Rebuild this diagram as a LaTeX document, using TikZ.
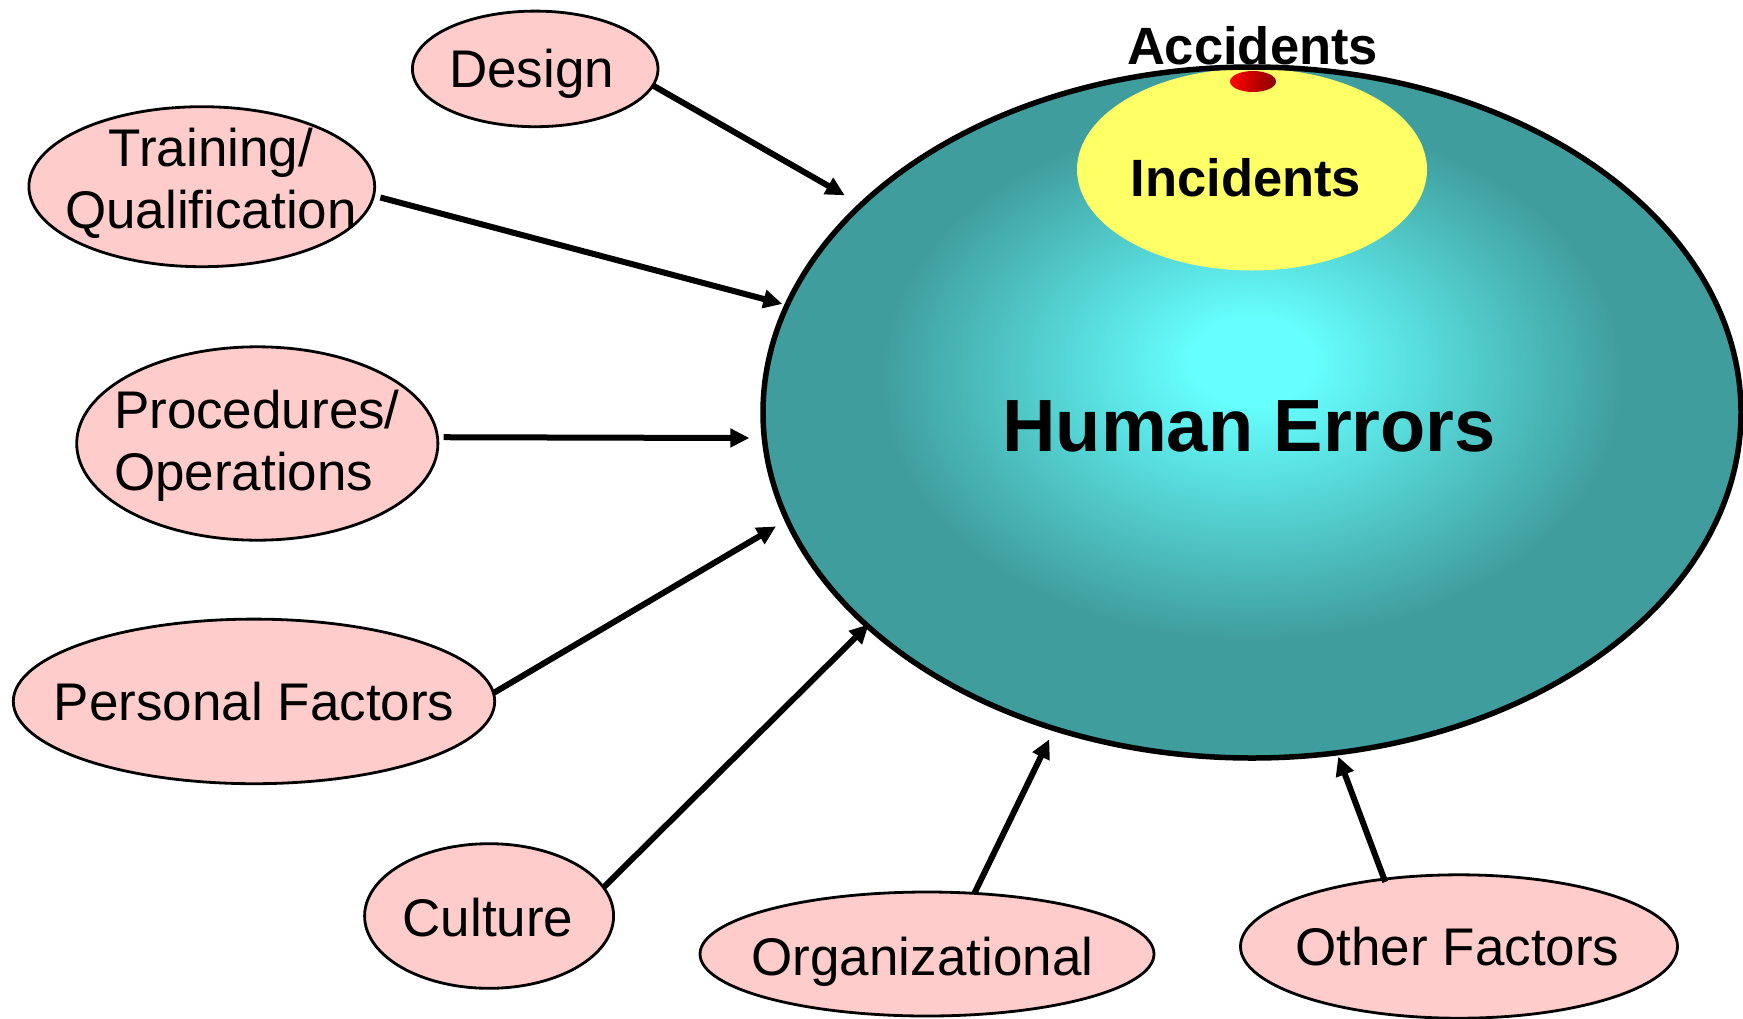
\documentclass[tikz,border=0pt]{standalone}
\usepackage{fontspec}
\setmainfont{Liberation Sans}
\usetikzlibrary{shapes.geometric,arrows.meta}

\definecolor{pinkfill}{RGB}{255,204,204}
\definecolor{incyellow}{RGB}{255,255,102}
\definecolor{hecore}{RGB}{102,255,255}
\definecolor{heedge}{RGB}{64,157,157}
\definecolor{dotlight}{RGB}{255,0,0}
\definecolor{dotdark}{RGB}{140,0,0}

% glow of the central ellipse: bright cyan core fading to teal
\pgfdeclareradialshading{errglow}{\pgfpoint{0bp}{4bp}}{%
  color(0bp)=(hecore); color(3bp)=(hecore); color(19bp)=(heedge);
  color(25bp)=(heedge); color(50bp)=(heedge)}

\begin{document}
\begin{tikzpicture}[x=1pt,y=-1pt,
  factor/.style={ellipse, draw, line width=2.8pt, fill=pinkfill,
                 inner sep=0pt, outer sep=0pt},
  lbl/.style={inner sep=0pt, outer sep=0pt,
              font=\fontsize{53}{61.6}\selectfont},
  boldlbl/.style={inner sep=0pt, outer sep=0pt,
                  font=\bfseries\fontsize{52.5}{62}\selectfont},
  arr/.style={line width=6pt, -{Triangle[length=19pt,width=18pt]}},
]
\useasboundingbox (0,0) rectangle (1743,1018);

% central ellipse with the incident and accident regions
\node[ellipse, inner sep=0pt, outer sep=0pt, minimum width=978pt,
      minimum height=691pt, shading=errglow] (he) at (1252,412.5) {};
\node[ellipse, inner sep=0pt, outer sep=0pt, minimum width=350pt,
      minimum height=202pt, fill=incyellow] (inc) at (1252,169.5) {};
\node[ellipse, inner sep=0pt, outer sep=0pt, minimum width=46pt,
      minimum height=21pt, left color=dotlight, right color=dotdark]
      (accdot) at (1253,81.5) {};
\draw[line width=5.5pt] (he.center) ellipse [x radius=489pt, y radius=345.5pt];

\node[boldlbl, anchor=base] (acctxt) at (1252.5,64) {Accidents};
\node[boldlbl, anchor=base] (inctxt) at (1245.8,196.7) {Incidents};
\node[inner sep=0pt, outer sep=0pt, anchor=base,
      font=\bfseries\fontsize{74}{80}\selectfont] (hetxt) at (1249.2,451.7) {Human Errors};

% contributing factors
\node[factor, minimum width=245.6pt, minimum height=115.6pt] (design) at (535.2,68.9) {};
\node[factor, minimum width=345.8pt, minimum height=160pt] (training) at (201.8,186.7) {};
\node[factor, minimum width=361.2pt, minimum height=193.4pt] (procedures) at (257.3,443.5) {};
\node[factor, minimum width=481.4pt, minimum height=164.6pt] (personal) at (254,701.4) {};
\node[factor, minimum width=249pt, minimum height=144.6pt] (culture) at (489.1,916) {};
\node[factor, minimum width=454pt, minimum height=124pt] (organizational) at (927,954) {};
\node[factor, minimum width=437pt, minimum height=143.4pt] (other) at (1459,946.5) {};

% multi-line labels are placed by the baseline of their last line
\node[lbl, anchor=base] (designtxt) at (531.7,87.7) {Design};
\node[lbl, anchor=base, align=center] (trainingtxt) at (211,228) {Training/\\Qualification};
\node[lbl, anchor=base west, align=left] (procedurestxt) at (114,490) {Procedures/\\Operations};
\node[lbl, anchor=base] (personaltxt) at (254.2,720) {Personal Factors};
\node[lbl, anchor=base] (culturetxt) at (488,936) {Culture};
\node[lbl, anchor=base] (organizationaltxt) at (922.5,975) {Organizational};
\node[lbl, anchor=base] (othertxt) at (1457.5,965) {Other Factors};

% influences on human error
\draw[arr, shorten >=19pt] (design.-8) -- (he.152);
\draw[arr, shorten <=7pt, shorten >=5pt] (training.-3) -- (he.167);
\draw[arr, shorten <=6pt, shorten >=15pt] (procedures.2) -- (he.183);
\draw[arr, shorten >=13pt] (personal.2) -- (he.193);
\draw[arr, shorten >=-2pt] (culture.14) -- (he.209);
\draw[arr, shorten >=12pt] (organizational.52) -- (he.238);
\draw[arr, shorten <=-3pt, shorten >=4pt] (other.138) -- (he.284);
\end{tikzpicture}
\end{document}
